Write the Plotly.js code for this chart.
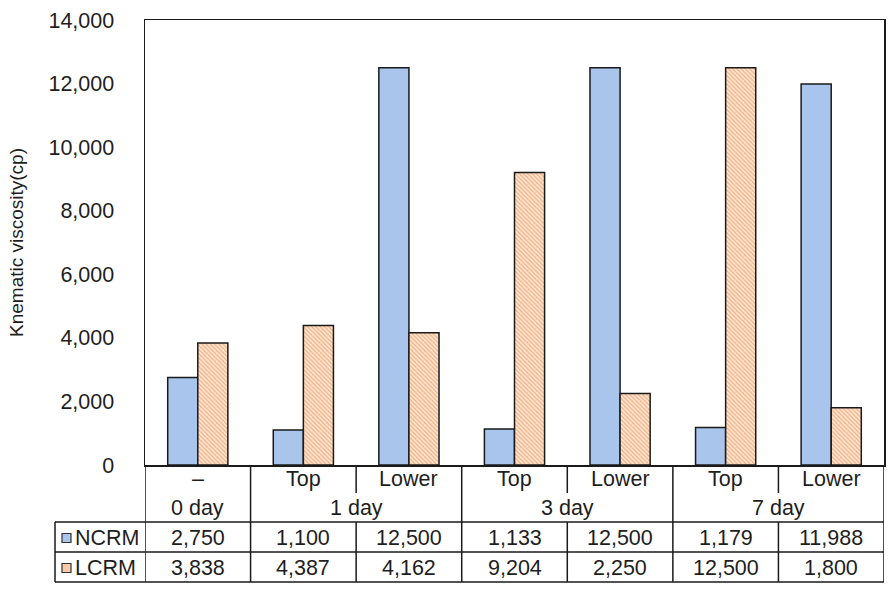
<!DOCTYPE html>
<html>
<head>
<meta charset="utf-8">
<script src="https://cdn.plot.ly/plotly-3.0.1.min.js"></script>
<style>html,body{margin:0;padding:0;background:#fff;}#chart{width:894px;height:594px;}</style>
</head>
<body>
<div id="chart"></div>
<script>
// ---- data ----
const subLabels = ["\u2013", "Top", "Lower", "Top", "Lower", "Top", "Lower"];
const groupLabels = ["0 day", "1 day", "3 day", "7 day"];
const groupFirst = [0, 1, 3, 5];
const groupLast = [0, 2, 4, 6];
const seriesNames = ["NCRM", "LCRM"];
const ncrm = [2750, 1100, 12500, 1133, 12500, 1179, 11988];
const lcrm = [3838, 4387, 4162, 9204, 2250, 12500, 1800];
const yTicks = [0, 2000, 4000, 6000, 8000, 10000, 12000, 14000];
const yTitle = "Knematic viscosity(cp)";

// ---- layout constants (pixels) ----
const W = 894, H = 594;
const L = 145, R = 10, T = 20, B = 129;
const plotW = W - L - R, plotH = H - T - B;
const py = p => (H - B - p) / plotH;     // pixel y -> paper y
const px = p => (p - L) / plotW;         // pixel x -> paper x

const FONT = "Liberation Sans, Arial, sans-serif";
const FS = 21.5;
const LINE = "#1a1a1a";
const LW = 1.5;
const TXT = "#1e1e1e";

const xs = subLabels.map((_, i) => i);
const fmt = v => v.toLocaleString("en-US");

const colors = {
  NCRM: "#A9C5EB",
  LCRMbg: "#FDE6D6",
  LCRMfg: "#F3AE7C"
};

const traces = [
  {
    type: "bar", name: seriesNames[0], x: xs, y: ncrm,
    marker: { color: colors.NCRM, line: { color: LINE, width: 1.5 } },
    hoverinfo: "y"
  },
  {
    type: "bar", name: seriesNames[1], x: xs, y: lcrm,
    marker: {
      color: colors.LCRMbg,
      line: { color: LINE, width: 1.5 },
      pattern: { shape: "\\", fgcolor: colors.LCRMfg, bgcolor: colors.LCRMbg, size: 3, solidity: 0.4, fillmode: "replace" }
    },
    hoverinfo: "y"
  }
];

// ---- data table (shapes + annotations) ----
const rowY = [465, 492, 522, 552, 582];          // row edges in pixels
const rowMid = [479, 508, 538, 568];
const shapes = [];
const annotations = [];
const hline = (x0, x1, y, xref) => shapes.push({ type: "line", xref: xref, yref: "paper", x0: x0, x1: x1, y0: py(y), y1: py(y), line: { color: LINE, width: LW } });
const vline = (x, y0, y1, xref) => shapes.push({ type: "line", xref: xref, yref: "paper", x0: x, x1: x, y0: py(y0), y1: py(y1), line: { color: LINE, width: LW } });

// horizontal lines
hline(px(55), 1, rowY[2], "paper");
hline(px(55), 1, rowY[3], "paper");
hline(px(55), 1, rowY[4], "paper");
// legend column edge
vline(px(55), rowY[2], rowY[4], "paper");
// column boundaries
for (let i = 0; i <= subLabels.length; i++) {
  const xb = i - 0.5;
  const isGroupEdge = groupFirst.includes(i) || i === subLabels.length;
  if (isGroupEdge) {
    vline(xb, rowY[0], rowY[4], "x");
  } else {
    vline(xb, rowY[0], rowY[1] + 1, "x");
    vline(xb, rowY[2], rowY[4], "x");
  }
}

const txt = (x, y, text, xref, xanchor) => annotations.push({
  x: x, y: py(y), xref: xref, yref: "paper", text: text, showarrow: false,
  xanchor: xanchor || "center", yanchor: "middle",
  font: { family: FONT, size: FS, color: TXT }
});

subLabels.forEach((s, i) => txt(i, rowMid[0], s, "x"));
groupLabels.forEach((g, k) => txt((groupFirst[k] + groupLast[k]) / 2, rowMid[1], g, "x"));
ncrm.forEach((v, i) => txt(i, rowMid[2], fmt(v), "x"));
lcrm.forEach((v, i) => txt(i, rowMid[3], fmt(v), "x"));

// legend keys + names
txt(px(73), rowMid[2], seriesNames[0], "paper", "left");
txt(px(73), rowMid[3], seriesNames[1], "paper", "left");
shapes.push({ type: "rect", xref: "paper", yref: "paper", x0: px(62), x1: px(71), y0: py(rowMid[2] - 4.5), y1: py(rowMid[2] + 4.5), fillcolor: colors.NCRM, line: { color: "#333", width: 1.2 } });
shapes.push({ type: "rect", xref: "paper", yref: "paper", x0: px(62), x1: px(71), y0: py(rowMid[3] - 4.5), y1: py(rowMid[3] + 4.5), fillcolor: "#F7C9A6", line: { color: "#333", width: 1.2 } });

const layout = {
  width: W, height: H,
  margin: { l: L, r: R, t: T, b: B, pad: 0 },
  paper_bgcolor: "#fff", plot_bgcolor: "#fff",
  showlegend: false,
  barmode: "group", bargap: 0.43, bargroupgap: 0,
  font: { family: FONT, size: FS, color: TXT },
  xaxis: {
    range: [-0.5, subLabels.length - 0.5],
    showticklabels: false, ticks: "", showgrid: false, zeroline: false,
    showline: true, mirror: true, linecolor: LINE, linewidth: LW, fixedrange: true
  },
  yaxis: {
    range: [0, 14000], tickvals: yTicks, ticktext: yTicks.map(fmt),
    ticks: "outside", ticklen: 25, tickcolor: "rgba(0,0,0,0)",
    showgrid: false, zeroline: false,
    showline: true, mirror: true, linecolor: LINE, linewidth: LW,
    tickfont: { family: FONT, size: FS, color: TXT },
    title: { text: yTitle, standoff: 20, font: { family: FONT, size: 19, color: TXT } },
    fixedrange: true
  },
  shapes: shapes,
  annotations: annotations
};

Plotly.newPlot("chart", traces, layout, { displayModeBar: false, staticPlot: true });
</script>
</body>
</html>
